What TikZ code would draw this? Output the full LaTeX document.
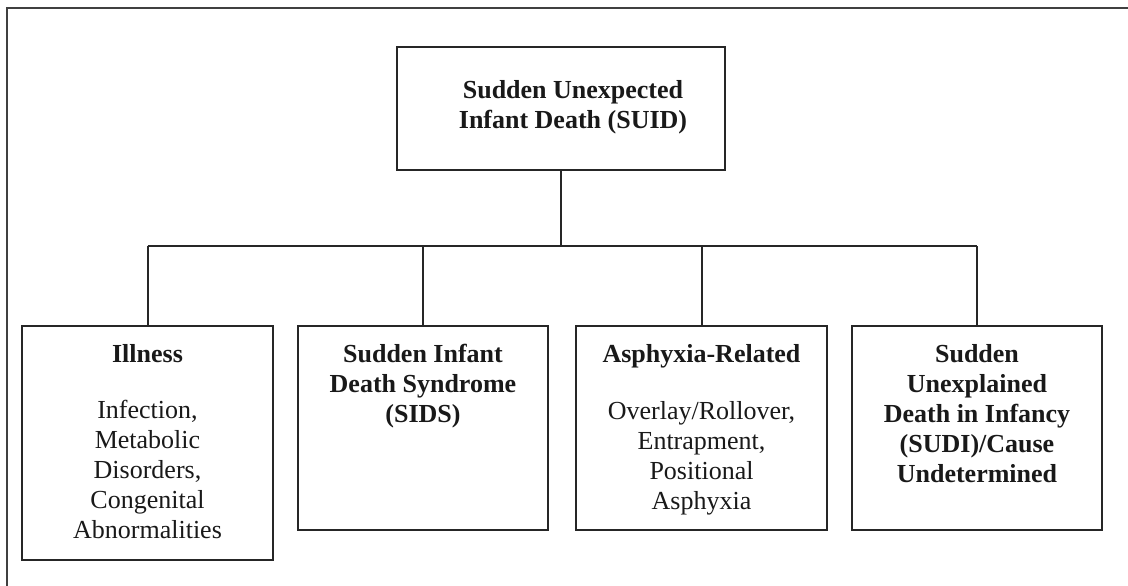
\documentclass[tikz,border=0pt]{standalone}
\usepackage{fontspec}
\setmainfont{Liberation Serif}
\begin{document}
\begin{tikzpicture}[x=0.5pt,y=-0.5pt,
  box/.style={draw=black!85, line width=1pt, inner sep=0pt, fill=white},
  txt/.style={align=center, inner sep=0pt, font=\fontsize{13}{15}\selectfont, text=black!90},
  conn/.style={draw=black!85, line width=1pt}]
\useasboundingbox (0,0) rectangle (1128,585);
% outer frame (left and top edges visible)
\draw[line width=1.3pt, black!75] (7,590) -- (7,8) -- (1135,8);
% boxes
\node[box, minimum width=164pt, minimum height=61.5pt] (b0) at (561,108.5) {};
\node[box, minimum width=125.5pt, minimum height=117pt] (b1) at (147.5,443) {};
\node[box, minimum width=125pt, minimum height=102pt] (b2) at (423,428) {};
\node[box, minimum width=125.5pt, minimum height=102pt] (b3) at (701.5,428) {};
\node[box, minimum width=125pt, minimum height=102pt] (b4) at (977,428) {};
% texts
\node[txt, font=\fontsize{13}{15}\selectfont\bfseries] (t0) at (573,107) {Sudden Unexpected\\Infant Death (SUID)};
\node[txt, anchor=north] (t1) at (147.5,344) {\textbf{Illness}\\[13pt]Infection,\\Metabolic\\Disorders,\\Congenital\\Abnormalities};
\node[txt, anchor=north, font=\fontsize{13}{15}\selectfont\bfseries] (t2) at (423,344) {Sudden Infant\\Death Syndrome\\(SIDS)};
\node[txt, anchor=north] (t3) at (701.5,344) {\textbf{Asphyxia-Related}\\[13.5pt]Overlay/Rollover,\\Entrapment,\\Positional\\Asphyxia};
\node[txt, anchor=north, font=\fontsize{13}{15}\selectfont\bfseries] (t4) at (977,344) {Sudden\\Unexplained\\Death in Infancy\\(SUDI)/Cause\\Undetermined};
% connectors
\coordinate (bar) at (0,246);
\draw[conn] (b0.south) -- (b0.south |- bar);
\draw[conn] (b1.north |- bar) -- (b4.north |- bar);
\draw[conn] (b1.north |- bar) -- (b1.north);
\draw[conn] (b2.north |- bar) -- (b2.north);
\draw[conn] (b3.north |- bar) -- (b3.north);
\draw[conn] (b4.north |- bar) -- (b4.north);
\end{tikzpicture}
\end{document}
